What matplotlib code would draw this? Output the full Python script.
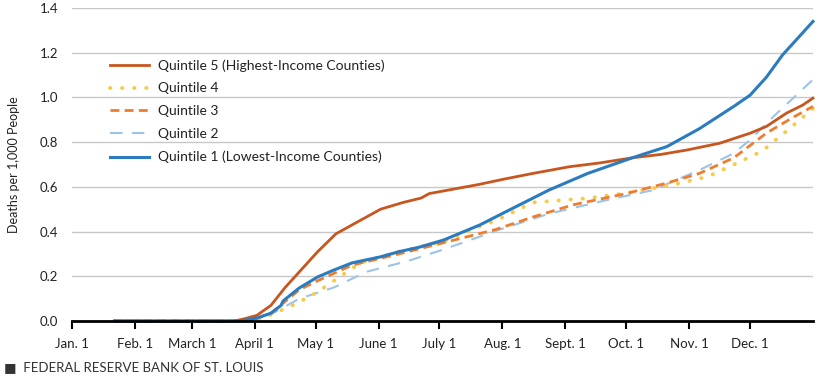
import matplotlib
matplotlib.use("Agg")
import matplotlib.pyplot as plt
import numpy as np

plt.rcParams['font.family'] = ['Lato', 'DejaVu Sans']

# Day of year (Jan 1 = 0) and deaths per 1,000 people
q5_days = [21, 80, 85, 91, 98, 105, 112, 121, 130, 140, 152, 163, 172, 176, 182, 200, 213, 227, 245, 260, 276, 290, 303, 319, 334, 342, 352, 360, 365]
q5_vals = [0.0, 0.0, 0.01, 0.025, 0.07, 0.15, 0.22, 0.31, 0.39, 0.44, 0.50, 0.53, 0.55, 0.57, 0.58, 0.61, 0.635, 0.66, 0.69, 0.707, 0.73, 0.745, 0.765, 0.795, 0.84, 0.87, 0.93, 0.966, 0.997]

q4_days = [21, 85, 91, 96, 111, 121, 129, 142, 161, 183, 200, 209, 227, 255, 275, 296, 313, 326, 340, 352, 365]
q4_vals = [0.0, 0.0, 0.005, 0.02, 0.08, 0.13, 0.18, 0.26, 0.31, 0.355, 0.42, 0.45, 0.53, 0.55, 0.575, 0.61, 0.645, 0.70, 0.76, 0.85, 0.95]

q3_days = [21, 83, 91, 98, 104, 112, 121, 138, 161, 183, 209, 227, 247, 273, 293, 309, 326, 342, 355, 365]
q3_vals = [0.0, 0.0, 0.012, 0.035, 0.08, 0.14, 0.18, 0.25, 0.30, 0.35, 0.41, 0.465, 0.52, 0.57, 0.617, 0.66, 0.73, 0.84, 0.91, 0.96]

q2_days = [21, 85, 91, 98, 112, 129, 145, 166, 183, 211, 235, 263, 286, 309, 326, 334, 345, 355, 365]
q2_vals = [0.0, 0.0, 0.008, 0.03, 0.10, 0.15, 0.22, 0.27, 0.32, 0.41, 0.48, 0.54, 0.585, 0.675, 0.75, 0.81, 0.91, 0.995, 1.08]

q1_days = [21, 83, 91, 98, 103, 104, 112, 121, 129, 138, 152, 161, 171, 183, 201, 214, 235, 254, 276, 293, 309, 326, 334, 342, 350, 359, 365]
q1_vals = [0.0, 0.0, 0.013, 0.035, 0.07, 0.09, 0.148, 0.197, 0.228, 0.26, 0.287, 0.31, 0.33, 0.362, 0.43, 0.49, 0.586, 0.66, 0.73, 0.78, 0.86, 0.96, 1.01, 1.09, 1.19, 1.28, 1.34]

labels = ['Quintile 5 (Highest-Income Counties)', 'Quintile 4', 'Quintile 3',
          'Quintile 2', 'Quintile 1 (Lowest-Income Counties)']

tick_days = [0, 31, 59, 90, 120, 151, 181, 212, 243, 273, 304, 334]
tick_labels = ['Jan. 1', 'Feb. 1', 'March 1', 'April 1', 'May 1', 'June 1',
               'July 1', 'Aug. 1', 'Sept. 1', 'Oct. 1', 'Nov. 1', 'Dec. 1']
y_ticks = [0.0, 0.2, 0.4, 0.6, 0.8, 1.0, 1.2, 1.4]

fig = plt.figure(figsize=(8.25, 3.78), dpi=100)
ax = fig.add_axes([72/825, 57/378, (813-72)/825, (321-8)/378])

c5, c4, c3, c2, c1 = '#c8561f', '#f6cb47', '#ef7d2f', '#9dc4e8', '#2a7bbf'

ax.plot(q5_days, q5_vals, color=c5, lw=2.0, label=labels[0], zorder=5, clip_on=False)
ax.plot(q4_days, q4_vals, color=c4, lw=2.8, linestyle=(0, (0.1, 3.0)),
        dash_capstyle='round', label=labels[1], zorder=3, clip_on=False)
ax.plot(q3_days, q3_vals, color=c3, lw=2.0, linestyle=(0, (3.2, 1.9)),
        label=labels[2], zorder=4, clip_on=False)
ax.plot(q2_days, q2_vals, color=c2, lw=1.5, linestyle=(0, (6.0, 4.5)),
        label=labels[3], zorder=2, clip_on=False)
ax.plot(q1_days, q1_vals, color=c1, lw=2.2, label=labels[4], zorder=6, clip_on=False)

ax.set_xlim(0, 365)
ax.set_ylim(0, 1.4)
ax.set_xticks(tick_days)
ax.set_xticklabels(tick_labels, fontsize=9.5, color='#222222')
ax.set_yticks(y_ticks)
ax.set_yticklabels([f'{v:.1f}' for v in y_ticks], fontsize=9.5, color='#222222')
ax.tick_params(axis='x', direction='out', length=6, width=1.5, color='black', pad=6)
ax.tick_params(axis='y', length=0, pad=10)
ax.grid(axis='y', color='#c8c8c8', lw=1.0)
ax.set_axisbelow(True)
for s in ['left', 'right', 'top']:
    ax.spines[s].set_visible(False)
ax.spines['bottom'].set_linewidth(2.0)
ax.spines['bottom'].set_zorder(10)
ax.set_ylabel('Deaths per 1,000 People', fontsize=9, color='#222222', labelpad=14)

leg = ax.legend(loc='upper left', bbox_to_anchor=(0.035, 0.877), frameon=False,
                fontsize=10, handlelength=2.8, handletextpad=0.6, labelspacing=0.78)
for t in leg.get_texts():
    t.set_color('#222222')

fig.text(4/825, 1 - 367/378, '\u25A0  FEDERAL RESERVE BANK OF ST. LOUIS', fontsize=9.5,
         color='#333333', va='center', ha='left')

fig.savefig('out.png', dpi=100)
